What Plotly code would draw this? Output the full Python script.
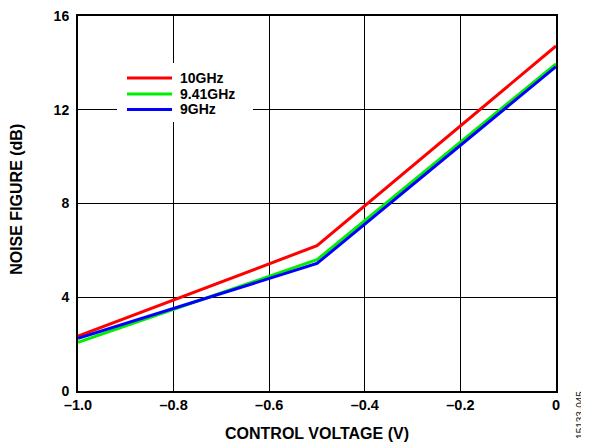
import plotly.graph_objects as go

voltage = [-1.0, -0.5, 0.0]
nf_10ghz = [2.34, 6.2, 14.72]
nf_941ghz = [2.08, 5.6, 13.96]
nf_9ghz = [2.25, 5.44, 13.84]

series_names = ["10GHz", "9.41GHz", "9GHz"]
series_values = [nf_10ghz, nf_941ghz, nf_9ghz]
series_colors = ["#ff0000", "#00ee00", "#0000ff"]

x_ticks = [-1.0, -0.8, -0.6, -0.4, -0.2, 0.0]
x_ticktext = ["\u20131.0", "\u20130.8", "\u20130.6", "\u20130.4", "\u20130.2", "0"]
y_ticks = [0, 4, 8, 12, 16]

font_family = "Liberation Sans, Arial, sans-serif"

fig = go.Figure()
for name, vals, col in zip(series_names, series_values, series_colors):
    fig.add_trace(go.Scatter(x=voltage, y=vals, mode="lines", name=name,
                             line=dict(color=col, width=3)))

# manual legend (white box covering grid, longer line samples)
shapes = [dict(type="rect", xref="paper", yref="paper", x0=0.0816, x1=0.366,
               y0=0.7173, y1=0.8747, fillcolor="white", line=dict(width=0), layer="above")]
annotations = []
legend_y = [0.8347, 0.7920, 0.7507]
for name, col, ly in zip(series_names, series_colors, legend_y):
    shapes.append(dict(type="line", xref="paper", yref="paper", x0=0.1025, x1=0.1967,
                       y0=ly, y1=ly, line=dict(color=col, width=3), layer="above"))
    annotations.append(dict(text=name, xref="paper", yref="paper", x=0.2098, y=ly,
                            xanchor="left", yanchor="middle", showarrow=False,
                            font=dict(size=14, weight="bold", family=font_family)))

annotations += [
    dict(text="CONTROL VOLTAGE (V)", xref="paper", yref="paper", x=0.5, y=-0.112,
         xanchor="center", yanchor="middle", showarrow=False,
         font=dict(size=16, weight="bold", family=font_family)),
    dict(text="NOISE FIGURE (dB)", xref="paper", yref="paper", x=-0.130, y=0.512,
         xanchor="center", yanchor="middle", textangle=-90, showarrow=False,
         font=dict(size=16, weight="bold", family=font_family)),
    dict(text="15133-045", xref="paper", yref="paper", x=1.050, y=-0.064,
         xanchor="center", yanchor="middle", textangle=-90, showarrow=False,
         font=dict(size=10, family=font_family, color="#222222")),
]

# The page body has an 8px default margin, so the figure is sized and
# offset to place the plot area where the reference has it.
fig.update_layout(
    width=581, height=439,
    margin=dict(l=70, r=33, t=8, b=56, autoexpand=False),
    paper_bgcolor="white", plot_bgcolor="white",
    font=dict(family=font_family, color="black", size=14),
    showlegend=False,
    shapes=shapes,
    annotations=annotations,
    xaxis=dict(range=[-1.0, 0.0], tickvals=x_ticks, ticktext=x_ticktext,
               showgrid=True, gridcolor="black", gridwidth=1,
               showline=True, linecolor="black", linewidth=2, mirror=True,
               ticks="", zeroline=False, automargin=False,
               ticklabeloverflow="allow",
               tickfont=dict(size=14.5, weight="bold")),
    yaxis=dict(range=[0, 16], tickvals=y_ticks,
               showgrid=True, gridcolor="black", gridwidth=1,
               showline=True, linecolor="black", linewidth=2, mirror=True,
               ticks="", zeroline=False, automargin=False,
               ticklabelstandoff=4, ticklabeloverflow="allow",
               tickfont=dict(size=14, weight="bold")),
)

fig.write_html("out.html")
